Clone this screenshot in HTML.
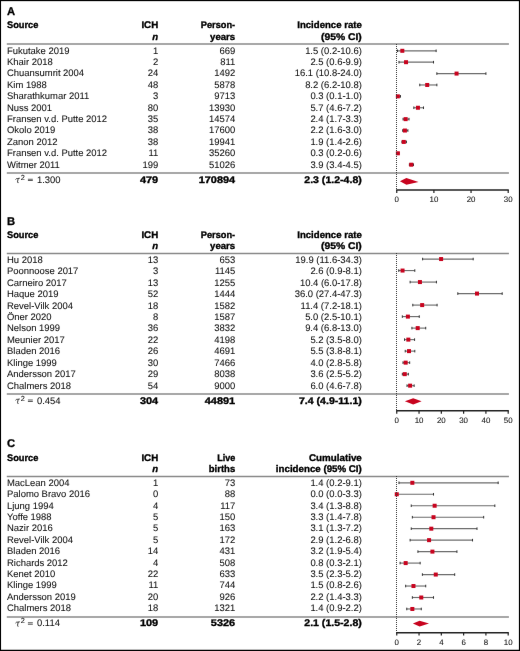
<!DOCTYPE html>
<html><head><meta charset="utf-8"><style>
html,body{margin:0;padding:0;background:#fff;}
svg{display:block;text-rendering:geometricPrecision;will-change:transform;}
text{font-family:"Liberation Sans", sans-serif;fill:#141414;stroke:#141414;stroke-width:0.08;}
text[font-weight=bold]{stroke-width:0.35;fill:#000;stroke:#000;}
text.let{stroke-width:0.3;}
</style></head><body>
<svg width="520" height="651" viewBox="0 0 520 651">
<defs><filter id="soft" x="0" y="0" width="520" height="651" filterUnits="userSpaceOnUse" color-interpolation-filters="sRGB"><feConvolveMatrix order="3" kernelMatrix="0.0009 0.0278 0.0009 0.0278 0.8855 0.0278 0.0009 0.0278 0.0009" edgeMode="duplicate"/></filter></defs>
<g filter="url(#soft)">
<rect x="0" y="0" width="520" height="651" fill="#fff"/>
<text class="let" x="7" y="14.95" font-weight="bold" font-size="11.2">A</text>
<text x="7" y="28.3" font-weight="bold" font-size="9.6" textLength="31.41" lengthAdjust="spacingAndGlyphs">Source</text>
<text x="158.2" y="28.3" text-anchor="end" font-weight="bold" font-size="9.6" textLength="16.8" lengthAdjust="spacingAndGlyphs">ICH</text>
<text x="158.2" y="39.7" text-anchor="end" font-weight="bold" font-style="italic" font-size="9.6">n</text>
<text x="235.2" y="28.3" text-anchor="end" font-weight="bold" font-size="9.6" textLength="34.49" lengthAdjust="spacingAndGlyphs">Person-</text>
<text x="235.2" y="39.7" text-anchor="end" font-weight="bold" font-size="9.6" textLength="25.09" lengthAdjust="spacingAndGlyphs">years</text>
<text x="361.8" y="28.3" text-anchor="end" font-weight="bold" font-size="9.6" textLength="64.56" lengthAdjust="spacingAndGlyphs">Incidence rate</text>
<text x="361.8" y="39.7" text-anchor="end" font-weight="bold" font-size="9.6" textLength="40.72" lengthAdjust="spacingAndGlyphs">(95% CI)</text>
<line x1="6.8" x2="508.9" y1="43.95" y2="43.95" stroke="#8a8a8a" stroke-width="1.5"/>
<text x="7" y="53.65" font-size="9.45">Fukutake 2019</text>
<text x="158.2" y="53.65" text-anchor="end" font-size="9.45">1</text>
<text x="235.2" y="53.65" text-anchor="end" font-size="9.45">669</text>
<text x="361.8" y="53.65" text-anchor="end" font-size="9.45">1.5 (0.2-10.6)</text>
<line x1="397.49" x2="436.13" y1="50.8" y2="50.8" stroke="#6e6e6e" stroke-width="1.15"/>
<line x1="397.49" x2="397.49" y1="49.5" y2="52.1" stroke="#333" stroke-width="1.0"/>
<line x1="436.13" x2="436.13" y1="49.5" y2="52.1" stroke="#333" stroke-width="1.0"/>
<rect x="400.32" y="48.8" width="4.0" height="4.0" fill="#c8041f"/>
<text x="7" y="65.05" font-size="9.45">Khair 2018</text>
<text x="158.2" y="65.05" text-anchor="end" font-size="9.45">2</text>
<text x="235.2" y="65.05" text-anchor="end" font-size="9.45">811</text>
<text x="361.8" y="65.05" text-anchor="end" font-size="9.45">2.5 (0.6-9.9)</text>
<line x1="398.98" x2="433.53" y1="62.19" y2="62.19" stroke="#6e6e6e" stroke-width="1.15"/>
<line x1="398.98" x2="398.98" y1="60.89" y2="63.49" stroke="#333" stroke-width="1.0"/>
<line x1="433.53" x2="433.53" y1="60.89" y2="63.49" stroke="#333" stroke-width="1.0"/>
<rect x="404.04" y="60.19" width="4.0" height="4.0" fill="#c8041f"/>
<text x="7" y="76.45" font-size="9.45">Chuansumrit 2004</text>
<text x="158.2" y="76.45" text-anchor="end" font-size="9.45">24</text>
<text x="235.2" y="76.45" text-anchor="end" font-size="9.45">1492</text>
<text x="361.8" y="76.45" text-anchor="end" font-size="9.45">16.1 (10.8-24.0)</text>
<line x1="436.87" x2="485.91" y1="73.58" y2="73.58" stroke="#6e6e6e" stroke-width="1.15"/>
<line x1="436.87" x2="436.87" y1="72.28" y2="74.88" stroke="#333" stroke-width="1.0"/>
<line x1="485.91" x2="485.91" y1="72.28" y2="74.88" stroke="#333" stroke-width="1.0"/>
<rect x="454.56" y="71.58" width="4.0" height="4.0" fill="#c8041f"/>
<text x="7" y="87.85" font-size="9.45">Kim 1988</text>
<text x="158.2" y="87.85" text-anchor="end" font-size="9.45">48</text>
<text x="235.2" y="87.85" text-anchor="end" font-size="9.45">5878</text>
<text x="361.8" y="87.85" text-anchor="end" font-size="9.45">8.2 (6.2-10.8)</text>
<line x1="419.78" x2="436.87" y1="84.97" y2="84.97" stroke="#6e6e6e" stroke-width="1.15"/>
<line x1="419.78" x2="419.78" y1="83.67" y2="86.27" stroke="#333" stroke-width="1.0"/>
<line x1="436.87" x2="436.87" y1="83.67" y2="86.27" stroke="#333" stroke-width="1.0"/>
<rect x="425.21" y="82.97" width="4.0" height="4.0" fill="#c8041f"/>
<text x="7" y="99.25" font-size="9.45">Sharathkumar 2011</text>
<text x="158.2" y="99.25" text-anchor="end" font-size="9.45">3</text>
<text x="235.2" y="99.25" text-anchor="end" font-size="9.45">9713</text>
<text x="361.8" y="99.25" text-anchor="end" font-size="9.45">0.3 (0.1-1.0)</text>
<line x1="397.12" x2="400.46" y1="96.36" y2="96.36" stroke="#6e6e6e" stroke-width="1.15"/>
<line x1="397.12" x2="397.12" y1="95.06" y2="97.66" stroke="#333" stroke-width="1.0"/>
<line x1="400.46" x2="400.46" y1="95.06" y2="97.66" stroke="#333" stroke-width="1.0"/>
<rect x="395.86" y="94.36" width="4.0" height="4.0" fill="#c8041f"/>
<text x="7" y="110.65" font-size="9.45">Nuss 2001</text>
<text x="158.2" y="110.65" text-anchor="end" font-size="9.45">80</text>
<text x="235.2" y="110.65" text-anchor="end" font-size="9.45">13930</text>
<text x="361.8" y="110.65" text-anchor="end" font-size="9.45">5.7 (4.6-7.2)</text>
<line x1="413.84" x2="423.5" y1="107.75" y2="107.75" stroke="#6e6e6e" stroke-width="1.15"/>
<line x1="413.84" x2="413.84" y1="106.45" y2="109.05" stroke="#333" stroke-width="1.0"/>
<line x1="423.5" x2="423.5" y1="106.45" y2="109.05" stroke="#333" stroke-width="1.0"/>
<rect x="415.93" y="105.75" width="4.0" height="4.0" fill="#c8041f"/>
<text x="7" y="122.05" font-size="9.45">Fransen v.d. Putte 2012</text>
<text x="158.2" y="122.05" text-anchor="end" font-size="9.45">35</text>
<text x="235.2" y="122.05" text-anchor="end" font-size="9.45">14574</text>
<text x="361.8" y="122.05" text-anchor="end" font-size="9.45">2.4 (1.7-3.3)</text>
<line x1="403.07" x2="409.01" y1="119.14" y2="119.14" stroke="#6e6e6e" stroke-width="1.15"/>
<line x1="403.07" x2="403.07" y1="117.84" y2="120.44" stroke="#333" stroke-width="1.0"/>
<line x1="409.01" x2="409.01" y1="117.84" y2="120.44" stroke="#333" stroke-width="1.0"/>
<rect x="403.67" y="117.14" width="4.0" height="4.0" fill="#c8041f"/>
<text x="7" y="133.45" font-size="9.45">Okolo 2019</text>
<text x="158.2" y="133.45" text-anchor="end" font-size="9.45">38</text>
<text x="235.2" y="133.45" text-anchor="end" font-size="9.45">17600</text>
<text x="361.8" y="133.45" text-anchor="end" font-size="9.45">2.2 (1.6-3.0)</text>
<line x1="402.69" x2="407.89" y1="130.53" y2="130.53" stroke="#6e6e6e" stroke-width="1.15"/>
<line x1="402.69" x2="402.69" y1="129.23" y2="131.83" stroke="#333" stroke-width="1.0"/>
<line x1="407.89" x2="407.89" y1="129.23" y2="131.83" stroke="#333" stroke-width="1.0"/>
<rect x="402.92" y="128.53" width="4.0" height="4.0" fill="#c8041f"/>
<text x="7" y="144.85" font-size="9.45">Zanon 2012</text>
<text x="158.2" y="144.85" text-anchor="end" font-size="9.45">38</text>
<text x="235.2" y="144.85" text-anchor="end" font-size="9.45">19941</text>
<text x="361.8" y="144.85" text-anchor="end" font-size="9.45">1.9 (1.4-2.6)</text>
<line x1="401.95" x2="406.41" y1="141.92" y2="141.92" stroke="#6e6e6e" stroke-width="1.15"/>
<line x1="401.95" x2="401.95" y1="140.62" y2="143.22" stroke="#333" stroke-width="1.0"/>
<line x1="406.41" x2="406.41" y1="140.62" y2="143.22" stroke="#333" stroke-width="1.0"/>
<rect x="401.81" y="139.92" width="4.0" height="4.0" fill="#c8041f"/>
<text x="7" y="156.25" font-size="9.45">Fransen v.d. Putte 2012</text>
<text x="158.2" y="156.25" text-anchor="end" font-size="9.45">11</text>
<text x="235.2" y="156.25" text-anchor="end" font-size="9.45">35260</text>
<text x="361.8" y="156.25" text-anchor="end" font-size="9.45">0.3 (0.2-0.6)</text>
<line x1="397.49" x2="398.98" y1="153.31" y2="153.31" stroke="#6e6e6e" stroke-width="1.15"/>
<line x1="397.49" x2="397.49" y1="152.01" y2="154.61" stroke="#333" stroke-width="1.0"/>
<line x1="398.98" x2="398.98" y1="152.01" y2="154.61" stroke="#333" stroke-width="1.0"/>
<rect x="395.86" y="151.31" width="4.0" height="4.0" fill="#c8041f"/>
<text x="7" y="167.65" font-size="9.45">Witmer 2011</text>
<text x="158.2" y="167.65" text-anchor="end" font-size="9.45">199</text>
<text x="235.2" y="167.65" text-anchor="end" font-size="9.45">51026</text>
<text x="361.8" y="167.65" text-anchor="end" font-size="9.45">3.9 (3.4-4.5)</text>
<line x1="409.38" x2="413.47" y1="164.7" y2="164.7" stroke="#6e6e6e" stroke-width="1.15"/>
<line x1="409.38" x2="409.38" y1="163.4" y2="166" stroke="#333" stroke-width="1.0"/>
<line x1="413.47" x2="413.47" y1="163.4" y2="166" stroke="#333" stroke-width="1.0"/>
<rect x="409.24" y="162.7" width="4.0" height="4.0" fill="#c8041f"/>
<line x1="6.8" x2="508.9" y1="172.9" y2="172.9" stroke="#8a8a8a" stroke-width="1.5"/>
<path d="M15.5 179.5 Q16.3 178.3 17.6 178.5 L19.8 178.2 M18.2 178.4 L17.5 181.9 Q17.4 182.9 18.5 182.6" fill="none" stroke="#333" stroke-width="0.95"/>
<text x="20.7" y="179.8" font-size="7.4">2</text>
<rect x="27.9" y="178.8" width="4.9" height="0.8" fill="#333"/><rect x="27.9" y="180.2" width="4.9" height="0.8" fill="#333"/>
<text x="37" y="182.7" font-size="9.45">1.300</text>
<text x="158.2" y="182.7" text-anchor="end" font-weight="bold" font-size="9.6" textLength="18.26" lengthAdjust="spacingAndGlyphs">479</text>
<text x="235.2" y="182.7" text-anchor="end" font-weight="bold" font-size="9.6" textLength="36.52" lengthAdjust="spacingAndGlyphs">170894</text>
<text x="361.8" y="182.7" text-anchor="end" font-weight="bold" font-size="9.6" textLength="57.52" lengthAdjust="spacingAndGlyphs">2.3 (1.2-4.8)</text>
<polygon points="399.9,181.3 406.4,178 418.5,182 406.4,184.8" fill="#c8041f"/>
<line x1="396.5" x2="396.5" y1="44" y2="190" stroke="#3a3a3a" stroke-width="1.0" stroke-dasharray="1 1"/>
<line x1="396.15" x2="508.8" y1="190" y2="190" stroke="#222" stroke-width="1.4"/>
<line x1="396.75" x2="396.75" y1="190" y2="192.9" stroke="#222" stroke-width="1.2"/>
<text x="396.75" y="202.1" text-anchor="middle" font-size="7.9">0</text>
<line x1="433.9" x2="433.9" y1="190" y2="192.9" stroke="#222" stroke-width="1.2"/>
<text x="433.9" y="202.1" text-anchor="middle" font-size="7.9">10</text>
<line x1="471.05" x2="471.05" y1="190" y2="192.9" stroke="#222" stroke-width="1.2"/>
<text x="471.05" y="202.1" text-anchor="middle" font-size="7.9">20</text>
<line x1="508.2" x2="508.2" y1="190" y2="192.9" stroke="#222" stroke-width="1.2"/>
<text x="508.2" y="202.1" text-anchor="middle" font-size="7.9">30</text>
<text class="let" x="7" y="224.5" font-weight="bold" font-size="11.2">B</text>
<text x="7" y="237.85" font-weight="bold" font-size="9.6" textLength="31.41" lengthAdjust="spacingAndGlyphs">Source</text>
<text x="158.2" y="237.85" text-anchor="end" font-weight="bold" font-size="9.6" textLength="16.8" lengthAdjust="spacingAndGlyphs">ICH</text>
<text x="158.2" y="249.25" text-anchor="end" font-weight="bold" font-style="italic" font-size="9.6">n</text>
<text x="235.2" y="237.85" text-anchor="end" font-weight="bold" font-size="9.6" textLength="34.49" lengthAdjust="spacingAndGlyphs">Person-</text>
<text x="235.2" y="249.25" text-anchor="end" font-weight="bold" font-size="9.6" textLength="25.09" lengthAdjust="spacingAndGlyphs">years</text>
<text x="361.8" y="237.85" text-anchor="end" font-weight="bold" font-size="9.6" textLength="64.56" lengthAdjust="spacingAndGlyphs">Incidence rate</text>
<text x="361.8" y="249.25" text-anchor="end" font-weight="bold" font-size="9.6" textLength="40.72" lengthAdjust="spacingAndGlyphs">(95% CI)</text>
<line x1="6.8" x2="508.9" y1="253.5" y2="253.5" stroke="#8a8a8a" stroke-width="1.5"/>
<text x="7" y="262.9" font-size="9.45">Hu 2018</text>
<text x="158.2" y="262.9" text-anchor="end" font-size="9.45">13</text>
<text x="235.2" y="262.9" text-anchor="end" font-size="9.45">653</text>
<text x="361.8" y="262.9" text-anchor="end" font-size="9.45">19.9 (11.6-34.3)</text>
<line x1="422.61" x2="473.2" y1="259.05" y2="259.05" stroke="#6e6e6e" stroke-width="1.15"/>
<line x1="422.61" x2="422.61" y1="257.75" y2="260.35" stroke="#333" stroke-width="1.0"/>
<line x1="473.2" x2="473.2" y1="257.75" y2="260.35" stroke="#333" stroke-width="1.0"/>
<rect x="439.11" y="257.05" width="4.0" height="4.0" fill="#c8041f"/>
<text x="7" y="274.32" font-size="9.45">Poonnoose 2017</text>
<text x="158.2" y="274.32" text-anchor="end" font-size="9.45">3</text>
<text x="235.2" y="274.32" text-anchor="end" font-size="9.45">1145</text>
<text x="361.8" y="274.32" text-anchor="end" font-size="9.45">2.6 (0.9-8.1)</text>
<line x1="398.76" x2="414.8" y1="270.56" y2="270.56" stroke="#6e6e6e" stroke-width="1.15"/>
<line x1="398.76" x2="398.76" y1="269.26" y2="271.86" stroke="#333" stroke-width="1.0"/>
<line x1="414.8" x2="414.8" y1="269.26" y2="271.86" stroke="#333" stroke-width="1.0"/>
<rect x="400.55" y="268.56" width="4.0" height="4.0" fill="#c8041f"/>
<text x="7" y="285.74" font-size="9.45">Carneiro 2017</text>
<text x="158.2" y="285.74" text-anchor="end" font-size="9.45">13</text>
<text x="235.2" y="285.74" text-anchor="end" font-size="9.45">1255</text>
<text x="361.8" y="285.74" text-anchor="end" font-size="9.45">10.4 (6.0-17.8)</text>
<line x1="410.12" x2="436.43" y1="282.07" y2="282.07" stroke="#6e6e6e" stroke-width="1.15"/>
<line x1="410.12" x2="410.12" y1="280.77" y2="283.37" stroke="#333" stroke-width="1.0"/>
<line x1="436.43" x2="436.43" y1="280.77" y2="283.37" stroke="#333" stroke-width="1.0"/>
<rect x="417.93" y="280.07" width="4.0" height="4.0" fill="#c8041f"/>
<text x="7" y="297.16" font-size="9.45">Haque 2019</text>
<text x="158.2" y="297.16" text-anchor="end" font-size="9.45">52</text>
<text x="235.2" y="297.16" text-anchor="end" font-size="9.45">1444</text>
<text x="361.8" y="297.16" text-anchor="end" font-size="9.45">36.0 (27.4-47.3)</text>
<line x1="457.82" x2="502.18" y1="293.58" y2="293.58" stroke="#6e6e6e" stroke-width="1.15"/>
<line x1="457.82" x2="457.82" y1="292.28" y2="294.88" stroke="#333" stroke-width="1.0"/>
<line x1="502.18" x2="502.18" y1="292.28" y2="294.88" stroke="#333" stroke-width="1.0"/>
<rect x="474.99" y="291.58" width="4.0" height="4.0" fill="#c8041f"/>
<text x="7" y="308.58" font-size="9.45">Revel-Vilk 2004</text>
<text x="158.2" y="308.58" text-anchor="end" font-size="9.45">18</text>
<text x="235.2" y="308.58" text-anchor="end" font-size="9.45">1582</text>
<text x="361.8" y="308.58" text-anchor="end" font-size="9.45">11.4 (7.2-18.1)</text>
<line x1="412.8" x2="437.09" y1="305.09" y2="305.09" stroke="#6e6e6e" stroke-width="1.15"/>
<line x1="412.8" x2="412.8" y1="303.79" y2="306.39" stroke="#333" stroke-width="1.0"/>
<line x1="437.09" x2="437.09" y1="303.79" y2="306.39" stroke="#333" stroke-width="1.0"/>
<rect x="420.16" y="303.09" width="4.0" height="4.0" fill="#c8041f"/>
<text x="7" y="320" font-size="9.45">Öner 2020</text>
<text x="158.2" y="320" text-anchor="end" font-size="9.45">8</text>
<text x="235.2" y="320" text-anchor="end" font-size="9.45">1587</text>
<text x="361.8" y="320" text-anchor="end" font-size="9.45">5.0 (2.5-10.1)</text>
<line x1="402.32" x2="419.26" y1="316.6" y2="316.6" stroke="#6e6e6e" stroke-width="1.15"/>
<line x1="402.32" x2="402.32" y1="315.3" y2="317.9" stroke="#333" stroke-width="1.0"/>
<line x1="419.26" x2="419.26" y1="315.3" y2="317.9" stroke="#333" stroke-width="1.0"/>
<rect x="405.89" y="314.6" width="4.0" height="4.0" fill="#c8041f"/>
<text x="7" y="331.42" font-size="9.45">Nelson 1999</text>
<text x="158.2" y="331.42" text-anchor="end" font-size="9.45">36</text>
<text x="235.2" y="331.42" text-anchor="end" font-size="9.45">3832</text>
<text x="361.8" y="331.42" text-anchor="end" font-size="9.45">9.4 (6.8-13.0)</text>
<line x1="411.91" x2="425.73" y1="328.11" y2="328.11" stroke="#6e6e6e" stroke-width="1.15"/>
<line x1="411.91" x2="411.91" y1="326.81" y2="329.41" stroke="#333" stroke-width="1.0"/>
<line x1="425.73" x2="425.73" y1="326.81" y2="329.41" stroke="#333" stroke-width="1.0"/>
<rect x="415.7" y="326.11" width="4.0" height="4.0" fill="#c8041f"/>
<text x="7" y="342.84" font-size="9.45">Meunier 2017</text>
<text x="158.2" y="342.84" text-anchor="end" font-size="9.45">22</text>
<text x="235.2" y="342.84" text-anchor="end" font-size="9.45">4198</text>
<text x="361.8" y="342.84" text-anchor="end" font-size="9.45">5.2 (3.5-8.0)</text>
<line x1="404.55" x2="414.58" y1="339.62" y2="339.62" stroke="#6e6e6e" stroke-width="1.15"/>
<line x1="404.55" x2="404.55" y1="338.32" y2="340.92" stroke="#333" stroke-width="1.0"/>
<line x1="414.58" x2="414.58" y1="338.32" y2="340.92" stroke="#333" stroke-width="1.0"/>
<rect x="406.34" y="337.62" width="4.0" height="4.0" fill="#c8041f"/>
<text x="7" y="354.26" font-size="9.45">Bladen 2016</text>
<text x="158.2" y="354.26" text-anchor="end" font-size="9.45">26</text>
<text x="235.2" y="354.26" text-anchor="end" font-size="9.45">4691</text>
<text x="361.8" y="354.26" text-anchor="end" font-size="9.45">5.5 (3.8-8.1)</text>
<line x1="405.22" x2="414.8" y1="351.13" y2="351.13" stroke="#6e6e6e" stroke-width="1.15"/>
<line x1="405.22" x2="405.22" y1="349.83" y2="352.43" stroke="#333" stroke-width="1.0"/>
<line x1="414.8" x2="414.8" y1="349.83" y2="352.43" stroke="#333" stroke-width="1.0"/>
<rect x="407.01" y="349.13" width="4.0" height="4.0" fill="#c8041f"/>
<text x="7" y="365.68" font-size="9.45">Klinge 1999</text>
<text x="158.2" y="365.68" text-anchor="end" font-size="9.45">30</text>
<text x="235.2" y="365.68" text-anchor="end" font-size="9.45">7466</text>
<text x="361.8" y="365.68" text-anchor="end" font-size="9.45">4.0 (2.8-5.8)</text>
<line x1="402.99" x2="409.68" y1="362.64" y2="362.64" stroke="#6e6e6e" stroke-width="1.15"/>
<line x1="402.99" x2="402.99" y1="361.34" y2="363.94" stroke="#333" stroke-width="1.0"/>
<line x1="409.68" x2="409.68" y1="361.34" y2="363.94" stroke="#333" stroke-width="1.0"/>
<rect x="403.67" y="360.64" width="4.0" height="4.0" fill="#c8041f"/>
<text x="7" y="377.1" font-size="9.45">Andersson 2017</text>
<text x="158.2" y="377.1" text-anchor="end" font-size="9.45">29</text>
<text x="235.2" y="377.1" text-anchor="end" font-size="9.45">8038</text>
<text x="361.8" y="377.1" text-anchor="end" font-size="9.45">3.6 (2.5-5.2)</text>
<line x1="402.32" x2="408.34" y1="374.15" y2="374.15" stroke="#6e6e6e" stroke-width="1.15"/>
<line x1="402.32" x2="402.32" y1="372.85" y2="375.45" stroke="#333" stroke-width="1.0"/>
<line x1="408.34" x2="408.34" y1="372.85" y2="375.45" stroke="#333" stroke-width="1.0"/>
<rect x="402.77" y="372.15" width="4.0" height="4.0" fill="#c8041f"/>
<text x="7" y="388.52" font-size="9.45">Chalmers 2018</text>
<text x="158.2" y="388.52" text-anchor="end" font-size="9.45">54</text>
<text x="235.2" y="388.52" text-anchor="end" font-size="9.45">9000</text>
<text x="361.8" y="388.52" text-anchor="end" font-size="9.45">6.0 (4.6-7.8)</text>
<line x1="407" x2="414.14" y1="385.66" y2="385.66" stroke="#6e6e6e" stroke-width="1.15"/>
<line x1="407" x2="407" y1="384.36" y2="386.96" stroke="#333" stroke-width="1.0"/>
<line x1="414.14" x2="414.14" y1="384.36" y2="386.96" stroke="#333" stroke-width="1.0"/>
<rect x="408.12" y="383.66" width="4.0" height="4.0" fill="#c8041f"/>
<line x1="6.8" x2="508.9" y1="394" y2="394" stroke="#8a8a8a" stroke-width="1.5"/>
<path d="M15.5 400.3 Q16.3 399.1 17.6 399.3 L19.8 399 M18.2 399.2 L17.5 402.7 Q17.4 403.7 18.5 403.4" fill="none" stroke="#333" stroke-width="0.95"/>
<text x="20.7" y="400.6" font-size="7.4">2</text>
<rect x="27.9" y="399.6" width="4.9" height="0.8" fill="#333"/><rect x="27.9" y="401" width="4.9" height="0.8" fill="#333"/>
<text x="37" y="403.5" font-size="9.45">0.454</text>
<text x="158.2" y="403.5" text-anchor="end" font-weight="bold" font-size="9.6" textLength="18.26" lengthAdjust="spacingAndGlyphs">304</text>
<text x="235.2" y="403.5" text-anchor="end" font-weight="bold" font-size="9.6" textLength="30.43" lengthAdjust="spacingAndGlyphs">44891</text>
<text x="361.8" y="403.5" text-anchor="end" font-weight="bold" font-size="9.6" textLength="62.82" lengthAdjust="spacingAndGlyphs">7.4 (4.9-11.1)</text>
<polygon points="404.9,401.2 413.2,398.3 421.6,401.2 413.2,404.6" fill="#c8041f"/>
<line x1="396.5" x2="396.5" y1="253" y2="410.8" stroke="#3a3a3a" stroke-width="1.0" stroke-dasharray="1 1"/>
<line x1="396.15" x2="508.8" y1="410.8" y2="410.8" stroke="#222" stroke-width="1.4"/>
<line x1="396.75" x2="396.75" y1="410.8" y2="413.7" stroke="#222" stroke-width="1.2"/>
<text x="396.75" y="422.7" text-anchor="middle" font-size="7.9">0</text>
<line x1="419.04" x2="419.04" y1="410.8" y2="413.7" stroke="#222" stroke-width="1.2"/>
<text x="419.04" y="422.7" text-anchor="middle" font-size="7.9">10</text>
<line x1="441.33" x2="441.33" y1="410.8" y2="413.7" stroke="#222" stroke-width="1.2"/>
<text x="441.33" y="422.7" text-anchor="middle" font-size="7.9">20</text>
<line x1="463.62" x2="463.62" y1="410.8" y2="413.7" stroke="#222" stroke-width="1.2"/>
<text x="463.62" y="422.7" text-anchor="middle" font-size="7.9">30</text>
<line x1="485.91" x2="485.91" y1="410.8" y2="413.7" stroke="#222" stroke-width="1.2"/>
<text x="485.91" y="422.7" text-anchor="middle" font-size="7.9">40</text>
<line x1="508.2" x2="508.2" y1="410.8" y2="413.7" stroke="#222" stroke-width="1.2"/>
<text x="508.2" y="422.7" text-anchor="middle" font-size="7.9">50</text>
<text class="let" x="7" y="447.4" font-weight="bold" font-size="11.2">C</text>
<text x="7" y="460.75" font-weight="bold" font-size="9.6" textLength="31.41" lengthAdjust="spacingAndGlyphs">Source</text>
<text x="158.2" y="460.75" text-anchor="end" font-weight="bold" font-size="9.6" textLength="16.8" lengthAdjust="spacingAndGlyphs">ICH</text>
<text x="158.2" y="472.15" text-anchor="end" font-weight="bold" font-style="italic" font-size="9.6">n</text>
<text x="235.2" y="460.75" text-anchor="end" font-weight="bold" font-size="9.6" textLength="18.06" lengthAdjust="spacingAndGlyphs">Live</text>
<text x="235.2" y="472.15" text-anchor="end" font-weight="bold" font-size="9.6" textLength="26.4" lengthAdjust="spacingAndGlyphs">births</text>
<text x="361.8" y="460.75" text-anchor="end" font-weight="bold" font-size="9.6" textLength="52.78" lengthAdjust="spacingAndGlyphs">Cumulative</text>
<text x="361.8" y="472.15" text-anchor="end" font-weight="bold" font-size="9.6" textLength="85.93" lengthAdjust="spacingAndGlyphs">incidence (95% CI)</text>
<line x1="6.8" x2="508.9" y1="476.4" y2="476.4" stroke="#8a8a8a" stroke-width="1.5"/>
<text x="7" y="485.85" font-size="9.45">MacLean 2004</text>
<text x="158.2" y="485.85" text-anchor="end" font-size="9.45">1</text>
<text x="235.2" y="485.85" text-anchor="end" font-size="9.45">73</text>
<text x="361.8" y="485.85" text-anchor="end" font-size="9.45">1.4 (0.2-9.1)</text>
<line x1="398.98" x2="498.17" y1="482.8" y2="482.8" stroke="#6e6e6e" stroke-width="1.15"/>
<line x1="398.98" x2="398.98" y1="481.5" y2="484.1" stroke="#333" stroke-width="1.0"/>
<line x1="498.17" x2="498.17" y1="481.5" y2="484.1" stroke="#333" stroke-width="1.0"/>
<rect x="410.35" y="480.8" width="4.0" height="4.0" fill="#c8041f"/>
<text x="7" y="497.25" font-size="9.45">Palomo Bravo 2016</text>
<text x="158.2" y="497.25" text-anchor="end" font-size="9.45">0</text>
<text x="235.2" y="497.25" text-anchor="end" font-size="9.45">88</text>
<text x="361.8" y="497.25" text-anchor="end" font-size="9.45">0.0 (0.0-3.3)</text>
<line x1="396.75" x2="433.53" y1="494.27" y2="494.27" stroke="#6e6e6e" stroke-width="1.15"/>
<line x1="396.75" x2="396.75" y1="492.97" y2="495.57" stroke="#333" stroke-width="1.0"/>
<line x1="433.53" x2="433.53" y1="492.97" y2="495.57" stroke="#333" stroke-width="1.0"/>
<rect x="394.75" y="492.27" width="4.0" height="4.0" fill="#c8041f"/>
<text x="7" y="508.65" font-size="9.45">Ljung 1994</text>
<text x="158.2" y="508.65" text-anchor="end" font-size="9.45">4</text>
<text x="235.2" y="508.65" text-anchor="end" font-size="9.45">117</text>
<text x="361.8" y="508.65" text-anchor="end" font-size="9.45">3.4 (1.3-8.8)</text>
<line x1="411.24" x2="494.83" y1="505.74" y2="505.74" stroke="#6e6e6e" stroke-width="1.15"/>
<line x1="411.24" x2="411.24" y1="504.44" y2="507.04" stroke="#333" stroke-width="1.0"/>
<line x1="494.83" x2="494.83" y1="504.44" y2="507.04" stroke="#333" stroke-width="1.0"/>
<rect x="432.64" y="503.74" width="4.0" height="4.0" fill="#c8041f"/>
<text x="7" y="520.05" font-size="9.45">Yoffe 1988</text>
<text x="158.2" y="520.05" text-anchor="end" font-size="9.45">5</text>
<text x="235.2" y="520.05" text-anchor="end" font-size="9.45">150</text>
<text x="361.8" y="520.05" text-anchor="end" font-size="9.45">3.3 (1.4-7.8)</text>
<line x1="412.35" x2="483.68" y1="517.21" y2="517.21" stroke="#6e6e6e" stroke-width="1.15"/>
<line x1="412.35" x2="412.35" y1="515.91" y2="518.51" stroke="#333" stroke-width="1.0"/>
<line x1="483.68" x2="483.68" y1="515.91" y2="518.51" stroke="#333" stroke-width="1.0"/>
<rect x="431.53" y="515.21" width="4.0" height="4.0" fill="#c8041f"/>
<text x="7" y="531.45" font-size="9.45">Nazir 2016</text>
<text x="158.2" y="531.45" text-anchor="end" font-size="9.45">5</text>
<text x="235.2" y="531.45" text-anchor="end" font-size="9.45">163</text>
<text x="361.8" y="531.45" text-anchor="end" font-size="9.45">3.1 (1.3-7.2)</text>
<line x1="411.24" x2="476.99" y1="528.68" y2="528.68" stroke="#6e6e6e" stroke-width="1.15"/>
<line x1="411.24" x2="411.24" y1="527.38" y2="529.98" stroke="#333" stroke-width="1.0"/>
<line x1="476.99" x2="476.99" y1="527.38" y2="529.98" stroke="#333" stroke-width="1.0"/>
<rect x="429.3" y="526.68" width="4.0" height="4.0" fill="#c8041f"/>
<text x="7" y="542.85" font-size="9.45">Revel-Vilk 2004</text>
<text x="158.2" y="542.85" text-anchor="end" font-size="9.45">5</text>
<text x="235.2" y="542.85" text-anchor="end" font-size="9.45">172</text>
<text x="361.8" y="542.85" text-anchor="end" font-size="9.45">2.9 (1.2-6.8)</text>
<line x1="410.12" x2="472.54" y1="540.15" y2="540.15" stroke="#6e6e6e" stroke-width="1.15"/>
<line x1="410.12" x2="410.12" y1="538.85" y2="541.45" stroke="#333" stroke-width="1.0"/>
<line x1="472.54" x2="472.54" y1="538.85" y2="541.45" stroke="#333" stroke-width="1.0"/>
<rect x="427.07" y="538.15" width="4.0" height="4.0" fill="#c8041f"/>
<text x="7" y="554.25" font-size="9.45">Bladen 2016</text>
<text x="158.2" y="554.25" text-anchor="end" font-size="9.45">14</text>
<text x="235.2" y="554.25" text-anchor="end" font-size="9.45">431</text>
<text x="361.8" y="554.25" text-anchor="end" font-size="9.45">3.2 (1.9-5.4)</text>
<line x1="417.93" x2="456.93" y1="551.62" y2="551.62" stroke="#6e6e6e" stroke-width="1.15"/>
<line x1="417.93" x2="417.93" y1="550.32" y2="552.92" stroke="#333" stroke-width="1.0"/>
<line x1="456.93" x2="456.93" y1="550.32" y2="552.92" stroke="#333" stroke-width="1.0"/>
<rect x="430.41" y="549.62" width="4.0" height="4.0" fill="#c8041f"/>
<text x="7" y="565.65" font-size="9.45">Richards 2012</text>
<text x="158.2" y="565.65" text-anchor="end" font-size="9.45">4</text>
<text x="235.2" y="565.65" text-anchor="end" font-size="9.45">508</text>
<text x="361.8" y="565.65" text-anchor="end" font-size="9.45">0.8 (0.3-2.1)</text>
<line x1="400.09" x2="420.15" y1="563.09" y2="563.09" stroke="#6e6e6e" stroke-width="1.15"/>
<line x1="400.09" x2="400.09" y1="561.79" y2="564.39" stroke="#333" stroke-width="1.0"/>
<line x1="420.15" x2="420.15" y1="561.79" y2="564.39" stroke="#333" stroke-width="1.0"/>
<rect x="403.67" y="561.09" width="4.0" height="4.0" fill="#c8041f"/>
<text x="7" y="577.05" font-size="9.45">Kenet 2010</text>
<text x="158.2" y="577.05" text-anchor="end" font-size="9.45">22</text>
<text x="235.2" y="577.05" text-anchor="end" font-size="9.45">633</text>
<text x="361.8" y="577.05" text-anchor="end" font-size="9.45">3.5 (2.3-5.2)</text>
<line x1="422.38" x2="454.7" y1="574.56" y2="574.56" stroke="#6e6e6e" stroke-width="1.15"/>
<line x1="422.38" x2="422.38" y1="573.26" y2="575.86" stroke="#333" stroke-width="1.0"/>
<line x1="454.7" x2="454.7" y1="573.26" y2="575.86" stroke="#333" stroke-width="1.0"/>
<rect x="433.76" y="572.56" width="4.0" height="4.0" fill="#c8041f"/>
<text x="7" y="588.45" font-size="9.45">Klinge 1999</text>
<text x="158.2" y="588.45" text-anchor="end" font-size="9.45">11</text>
<text x="235.2" y="588.45" text-anchor="end" font-size="9.45">744</text>
<text x="361.8" y="588.45" text-anchor="end" font-size="9.45">1.5 (0.8-2.6)</text>
<line x1="405.67" x2="425.73" y1="586.03" y2="586.03" stroke="#6e6e6e" stroke-width="1.15"/>
<line x1="405.67" x2="405.67" y1="584.73" y2="587.33" stroke="#333" stroke-width="1.0"/>
<line x1="425.73" x2="425.73" y1="584.73" y2="587.33" stroke="#333" stroke-width="1.0"/>
<rect x="411.47" y="584.03" width="4.0" height="4.0" fill="#c8041f"/>
<text x="7" y="599.85" font-size="9.45">Andersson 2019</text>
<text x="158.2" y="599.85" text-anchor="end" font-size="9.45">20</text>
<text x="235.2" y="599.85" text-anchor="end" font-size="9.45">926</text>
<text x="361.8" y="599.85" text-anchor="end" font-size="9.45">2.2 (1.4-3.3)</text>
<line x1="412.35" x2="433.53" y1="597.5" y2="597.5" stroke="#6e6e6e" stroke-width="1.15"/>
<line x1="412.35" x2="412.35" y1="596.2" y2="598.8" stroke="#333" stroke-width="1.0"/>
<line x1="433.53" x2="433.53" y1="596.2" y2="598.8" stroke="#333" stroke-width="1.0"/>
<rect x="419.27" y="595.5" width="4.0" height="4.0" fill="#c8041f"/>
<text x="7" y="611.25" font-size="9.45">Chalmers 2018</text>
<text x="158.2" y="611.25" text-anchor="end" font-size="9.45">18</text>
<text x="235.2" y="611.25" text-anchor="end" font-size="9.45">1321</text>
<text x="361.8" y="611.25" text-anchor="end" font-size="9.45">1.4 (0.9-2.2)</text>
<line x1="406.78" x2="421.27" y1="608.97" y2="608.97" stroke="#6e6e6e" stroke-width="1.15"/>
<line x1="406.78" x2="406.78" y1="607.67" y2="610.27" stroke="#333" stroke-width="1.0"/>
<line x1="421.27" x2="421.27" y1="607.67" y2="610.27" stroke="#333" stroke-width="1.0"/>
<rect x="410.35" y="606.97" width="4.0" height="4.0" fill="#c8041f"/>
<line x1="6.8" x2="508.9" y1="616.9" y2="616.9" stroke="#8a8a8a" stroke-width="1.5"/>
<path d="M15.5 623.1 Q16.3 621.9 17.6 622.1 L19.8 621.8 M18.2 622 L17.5 625.5 Q17.4 626.5 18.5 626.2" fill="none" stroke="#333" stroke-width="0.95"/>
<text x="20.7" y="623.4" font-size="7.4">2</text>
<rect x="27.9" y="622.4" width="4.9" height="0.8" fill="#333"/><rect x="27.9" y="623.8" width="4.9" height="0.8" fill="#333"/>
<text x="37" y="626.3" font-size="9.45">0.114</text>
<text x="158.2" y="626.3" text-anchor="end" font-weight="bold" font-size="9.6" textLength="18.26" lengthAdjust="spacingAndGlyphs">109</text>
<text x="235.2" y="626.3" text-anchor="end" font-weight="bold" font-size="9.6" textLength="24.35" lengthAdjust="spacingAndGlyphs">5326</text>
<text x="361.8" y="626.3" text-anchor="end" font-weight="bold" font-size="9.6" textLength="57.52" lengthAdjust="spacingAndGlyphs">2.1 (1.5-2.8)</text>
<polygon points="412.9,623.6 419.6,620.8 429,623.6 419.6,626.6" fill="#c8041f"/>
<line x1="396.5" x2="396.5" y1="476" y2="632.7" stroke="#3a3a3a" stroke-width="1.0" stroke-dasharray="1 1"/>
<line x1="396.15" x2="508.8" y1="632.7" y2="632.7" stroke="#222" stroke-width="1.4"/>
<line x1="396.75" x2="396.75" y1="632.7" y2="635.6" stroke="#222" stroke-width="1.2"/>
<text x="396.75" y="644.8" text-anchor="middle" font-size="7.9">0</text>
<line x1="419.04" x2="419.04" y1="632.7" y2="635.6" stroke="#222" stroke-width="1.2"/>
<text x="419.04" y="644.8" text-anchor="middle" font-size="7.9">2</text>
<line x1="441.33" x2="441.33" y1="632.7" y2="635.6" stroke="#222" stroke-width="1.2"/>
<text x="441.33" y="644.8" text-anchor="middle" font-size="7.9">4</text>
<line x1="463.62" x2="463.62" y1="632.7" y2="635.6" stroke="#222" stroke-width="1.2"/>
<text x="463.62" y="644.8" text-anchor="middle" font-size="7.9">6</text>
<line x1="485.91" x2="485.91" y1="632.7" y2="635.6" stroke="#222" stroke-width="1.2"/>
<text x="485.91" y="644.8" text-anchor="middle" font-size="7.9">8</text>
<line x1="508.2" x2="508.2" y1="632.7" y2="635.6" stroke="#222" stroke-width="1.2"/>
<text x="508.2" y="644.8" text-anchor="middle" font-size="7.9">10</text>
<rect x="0" y="0" width="520" height="1.15" fill="#000"/>
<rect x="0" y="0" width="1.05" height="651" fill="#000"/>
<rect x="518.9" y="0" width="1.1" height="651" fill="#000"/>
<rect x="0" y="649.75" width="520" height="1.25" fill="#000"/>
</g>
</svg>
</body></html>
